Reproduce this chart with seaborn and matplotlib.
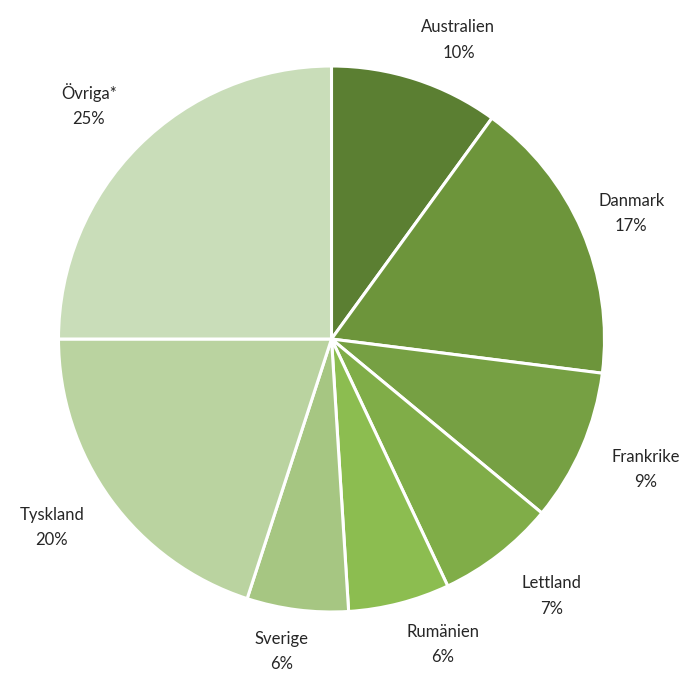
import matplotlib
matplotlib.use("Agg")
import numpy as np
import matplotlib.pyplot as plt
import seaborn as sns

# Data
countries = ["Australien", "Danmark", "Frankrike", "Lettland",
             "Rumänien", "Sverige", "Tyskland", "Övriga*"]
shares = [10, 17, 9, 7, 6, 6, 20, 25]
colors = ["#5B7F32", "#6D953B", "#76A043", "#80AD48",
          "#8CBD50", "#A6C682", "#BAD3A0", "#C9DDB9"]

# label placement (radius factor, angle shift in degrees), tuned per slice
label_dist = [1.19, 1.19, 1.245, 1.24, 1.19, 1.16, 1.235, 1.235]
label_shift = [-5, -0.7, 0.9, 2.8, 5.6, -1.8, -2, 1]

sns.set_theme(style="white")
plt.rcParams["font.family"] = ["Lato", "DejaVu Sans"]

fig = plt.figure(figsize=(6.88, 6.73), dpi=100)
ax = fig.add_axes([0, 0, 1, 1])

labels = [f"{c}\n{v}%" for c, v in zip(countries, shares)]
wedges, texts = ax.pie(
    shares, labels=labels, colors=colors, startangle=90, counterclock=False,
    radius=1.0,
    wedgeprops=dict(edgecolor="white", linewidth=2.2),
    textprops=dict(fontsize=12, color="#262626", linespacing=1.7),
)
for w, t, d, s in zip(wedges, texts, label_dist, label_shift):
    mid = np.deg2rad((w.theta1 + w.theta2) / 2 + s)
    t.set_position((d * np.cos(mid), d * np.sin(mid)))
    t.set_ha("center")
    t.set_va("center")

ax.set_aspect("equal")
ax.set_xlim(-331.5 / 273, (688 - 331.5) / 273)
ax.set_ylim(-(673 - 339) / 273, 339 / 273)
ax.axis("off")

fig.savefig("out.png", dpi=100)
